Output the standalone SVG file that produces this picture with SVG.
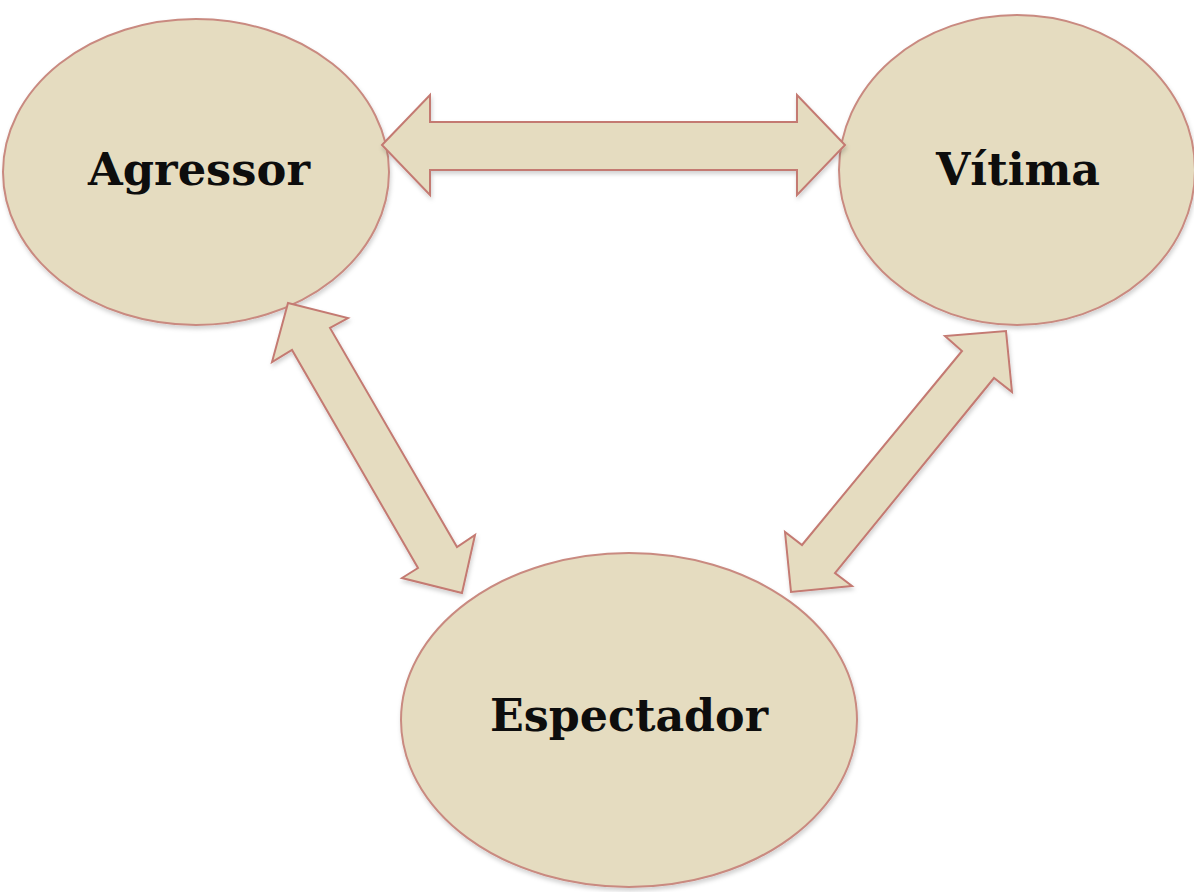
<svg xmlns="http://www.w3.org/2000/svg" width="1194" height="892" viewBox="0 0 1194 892">
<defs>
<style>
.node{fill:#e5dcc0;stroke:#c98a80;stroke-width:2}
.arrow{fill:#e5dcc0;stroke:#c47a72;stroke-width:2;stroke-linejoin:miter}
.lbl{font-family:"DejaVu Serif","Liberation Serif",serif;font-weight:bold;font-size:45px;fill:#0d0d0d;text-anchor:middle}
</style>
<filter id="sh" x="-10%" y="-10%" width="120%" height="120%">
<feDropShadow dx="1" dy="3" stdDeviation="2" flood-color="#000" flood-opacity="0.18"/>
</filter>
</defs>
<rect width="1194" height="892" fill="#fff"/>
<g id="agressor">
<ellipse class="node" cx="196" cy="172" rx="193" ry="153" filter="url(#sh)"/>
<text class="lbl" x="199" y="185" textLength="222" lengthAdjust="spacingAndGlyphs">Agressor</text>
</g>
<g id="vitima">
<ellipse class="node" cx="1017" cy="170" rx="178" ry="155" filter="url(#sh)"/>
<text class="lbl" x="1018" y="185" textLength="164" lengthAdjust="spacingAndGlyphs">Vítima</text>
</g>
<g id="espectador">
<ellipse class="node" cx="629" cy="720" rx="228" ry="167" filter="url(#sh)"/>
<text class="lbl" x="629" y="731" textLength="278" lengthAdjust="spacingAndGlyphs">Espectador</text>
</g>
<g id="connectors" filter="url(#sh)">
<polygon class="arrow" points="382,145 430,95 430,122 797,122 797,95 845,145 797,195 797,170 430,170 430,195"/>
<polygon class="arrow" points="288,303 348,318 330,328 457,547 475,535 462,593 402,578 418,568 292,350 272,362"/>
<polygon class="arrow" points="1006,331 1012,392 994,378 835,573 852,586 791,592 785,532 802,545 962,351 945,336"/>
</g>
</svg>
